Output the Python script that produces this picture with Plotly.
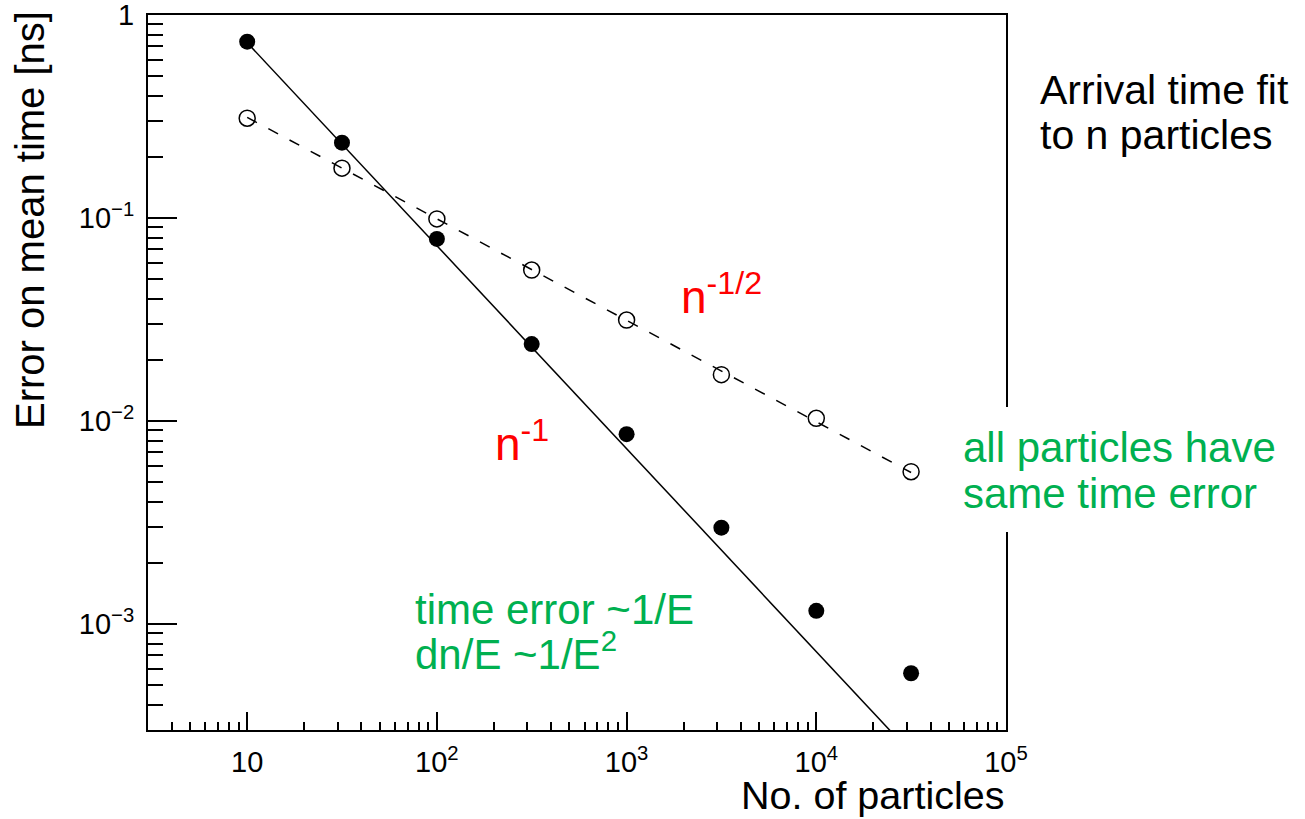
import numpy as np
import plotly.graph_objects as go

# Number of particles in the arrival-time fit
n_particles = [10, 31.6, 100, 316, 1000, 3160, 10000, 31600]
# Error on the mean time [ns]: particles with energy-dependent time error (filled)
err_energy_dep = [0.739, 0.235, 0.0788, 0.0239, 0.0086, 0.00298, 0.00116, 0.000571]
# Error on the mean time [ns]: all particles share the same time error (open)
err_same = [0.31, 0.176, 0.0989, 0.0554, 0.0314, 0.0169, 0.0103, 0.00562]

# Power-law fit coefficients
fit_inv_coef = 7.3     # a / n
fit_sqrt_coef = 0.99   # b / sqrt(n)

x_tickvals = [10, 1e2, 1e3, 1e4, 1e5]
x_ticktext = ["10", "10<sup>2</sup>", "10<sup>3</sup>", "10<sup>4</sup>", "10<sup>5</sup>"]
y_tickvals = [1e-3, 1e-2, 1e-1, 1]
y_ticktext = ["10<sup>−3</sup>", "10<sup>−2</sup>", "10<sup>−1</sup>", "1"]

x_range = (3.0, 1e5)
y_range = (3e-4, 1.0)

FONT = "Liberation Sans, Arial, Helvetica, sans-serif"
RED = "#FF0000"
GREEN = "#00B050"

x_minor = [k * 10.0 ** d for d in range(0, 5) for k in range(2, 10)
           if x_range[0] <= k * 10.0 ** d <= x_range[1]]
y_minor = [k * 10.0 ** d for d in range(-4, 0) for k in range(2, 10)
           if y_range[0] <= k * 10.0 ** d <= y_range[1]]

n_arr = np.array(n_particles, dtype=float)
fit_inv_x = np.array([n_arr[0], 1e5])
fit_inv_y = fit_inv_coef / fit_inv_x
fit_sqrt_x = np.geomspace(n_arr[0], n_arr[-1], 50)
fit_sqrt_y = fit_sqrt_coef / np.sqrt(fit_sqrt_x)

fig = go.Figure()

fig.add_trace(go.Scatter(
    x=n_particles, y=err_same, mode="markers",
    marker=dict(symbol="circle-open", size=16, color="black", line=dict(width=1.5)),
    showlegend=False))
fig.add_trace(go.Scatter(
    x=n_particles, y=err_energy_dep, mode="markers",
    marker=dict(symbol="circle", size=16, color="black"),
    showlegend=False))
fig.add_trace(go.Scatter(
    x=fit_sqrt_x, y=fit_sqrt_y, mode="lines",
    line=dict(color="black", width=1.5, dash="11px,13px"),
    showlegend=False))
fig.add_trace(go.Scatter(
    x=fit_inv_x, y=fit_inv_y, mode="lines",
    line=dict(color="black", width=1.5),
    showlegend=False))

W, H = 1305, 819
L, R, T, B = 148, 1006, 15, 730


def px(x):
    return (x - L) / (R - L)


def py(y):
    return (B - y) / (B - T)


fig.update_xaxes(
    type="log", range=[np.log10(x_range[0]), np.log10(x_range[1]) + 1e-6],
    automargin=False,
    showgrid=False, zeroline=False,
    showline=True, mirror=True, linecolor="black", linewidth=2,
    ticks="inside", ticklen=18, tickwidth=2, tickcolor="black",
    tickmode="array", tickvals=x_tickvals, ticktext=x_ticktext,
    tickfont=dict(family=FONT, size=29, color="black"),
    ticklabelstandoff=5, ticklabeloverflow="allow",
    minor=dict(tickmode="array", tickvals=x_minor, ticks="inside",
               ticklen=8, tickwidth=1.5, tickcolor="black", showgrid=False),
)
fig.update_yaxes(
    type="log", range=[np.log10(y_range[0]), np.log10(y_range[1]) + 1e-6],
    automargin=False,
    showgrid=False, zeroline=False,
    showline=True, mirror=True, linecolor="black", linewidth=2,
    ticks="inside", ticklen=29, tickwidth=2, tickcolor="black",
    tickmode="array", tickvals=y_tickvals, ticktext=y_ticktext,
    tickfont=dict(family=FONT, size=29, color="black"),
    ticklabelstandoff=6, ticklabeloverflow="allow",
    minor=dict(tickmode="array", tickvals=y_minor, ticks="inside",
               ticklen=15, tickwidth=1.5, tickcolor="black", showgrid=False),
)

# white box behind the side note on the right (covers the frame edge)
fig.add_shape(type="rect", xref="paper", yref="paper", layer="above",
              x0=px(955), x1=px(1300), y0=py(532), y1=py(407),
              fillcolor="white", line=dict(width=0))

annotations = [
    # axis titles
    dict(text="Error on mean time [ns]", x=px(30), y=py(220), xanchor="center", yanchor="middle",
         textangle=-90, font=dict(size=40, color="black")),
    dict(text="No. of particles", x=1.0, y=py(795), xanchor="right", yanchor="middle",
         font=dict(size=39.5, color="black")),
    # side note
    dict(text="Arrival time fit", x=px(1038), y=py(90), xanchor="left", yanchor="middle",
         font=dict(size=41, color="black")),
    dict(text="to n particles", x=px(1038), y=py(135), xanchor="left", yanchor="middle",
         font=dict(size=41, color="black")),
    # power-law labels
    dict(text="n<sup>-1/2</sup>", x=px(679), y=py(325), xanchor="left", yanchor="bottom",
         font=dict(size=46, color=RED)),
    dict(text="n<sup>-1</sup>", x=px(493), y=py(472), xanchor="left", yanchor="bottom",
         font=dict(size=46, color=RED)),
    # green comments
    dict(text="time error ~1/E", x=px(413), y=py(609), xanchor="left", yanchor="middle",
         font=dict(size=42, color=GREEN)),
    dict(text="dn/E ~1/E<sup>2</sup>", x=px(413), y=py(651), xanchor="left", yanchor="middle",
         font=dict(size=42, color=GREEN)),
    dict(text="all particles have", x=px(961), y=py(447), xanchor="left", yanchor="middle",
         font=dict(size=42, color=GREEN)),
    dict(text="same time error", x=px(961), y=py(494), xanchor="left", yanchor="middle",
         font=dict(size=42, color=GREEN)),
]
for a in annotations:
    a.update(xref="paper", yref="paper", showarrow=False, align="left")
    a["font"]["family"] = FONT
fig.update_layout(annotations=annotations)

fig.update_layout(
    width=W, height=H,
    margin=dict(l=L, r=W - R, t=T, b=H - B, pad=0, autoexpand=False),
    paper_bgcolor="white", plot_bgcolor="white",
    font=dict(family=FONT),
)

fig.write_html("out.html")
